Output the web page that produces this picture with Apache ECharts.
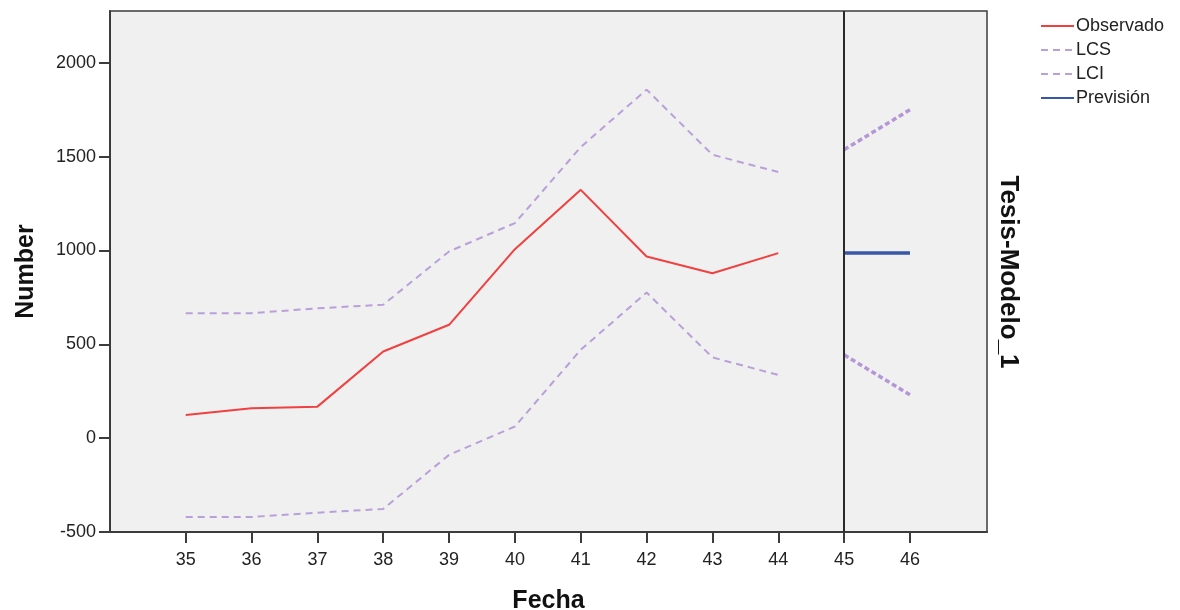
<!DOCTYPE html>
<html>
<head>
<meta charset="utf-8">
<script src="https://cdn.jsdelivr.net/npm/echarts@6/dist/echarts.min.js"></script>
<style>
  html, body { margin: 0; padding: 0; background: #fff; }
  #chart { width: 1180px; height: 610px; }
</style>
</head>
<body>
<div id="chart"></div>
<script>
// valores
const fechas = [35, 36, 37, 38, 39, 40, 41, 42, 43, 44];
const fechasPrev = [45, 46];
const observado = [124, 160, 168, 462, 604, 1007, 1323, 968, 879, 986];
const lcs = [666, 666, 692, 711, 995, 1146, 1551, 1857, 1510, 1418];
const lci = [-420, -420, -397, -377, -89, 62, 471, 776, 430, 337];
const lcsPrev = [1537, 1750];
const lciPrev = [444, 231];
const prevision = [986, 986];
const xTicks = [35, 36, 37, 38, 39, 40, 41, 42, 43, 44, 45, 46];
const yTicks = [-500, 0, 500, 1000, 1500, 2000];
const inicioPrevision = 45;

const pairs = (xs, ys) => xs.map((x, i) => [x, ys[i]]);

const font = 'Liberation Sans, Arial, sans-serif';
const lila = '#b9a0d8';

const chart = echarts.init(document.getElementById('chart'));

chart.setOption({
    animation: false,
    grid: {
        left: 110,
        top: 11,
        right: 193,
        bottom: 78,
        outerBoundsMode: 'none',
        containLabel: false,
        show: true,
        backgroundColor: '#f0f0f0',
        borderColor: '#3c3c3c',
        borderWidth: 1.5
    },
    legend: {
        orient: 'vertical',
        left: 1035,
        top: 12,
        itemWidth: 33,
        itemHeight: 14,
        itemGap: 6,
        itemStyle: { opacity: 0 },
        textStyle: { fontFamily: font, fontSize: 18, color: '#222', padding: [0, 0, 0, -3] },
        data: ['Observado', 'LCS', 'LCI', 'Previsión']
    },
    xAxis: {
        type: 'value',
        min: 33.85,
        max: 47.17,
        name: 'Fecha',
        nameLocation: 'middle',
        nameGap: 57,
        nameTextStyle: { fontFamily: font, fontSize: 25, fontWeight: 'bold', color: '#111' },
        axisLine: { onZero: false, lineStyle: { color: '#3c3c3c', width: 2 } },
        axisTick: { show: true, length: 11, lineStyle: { color: '#3c3c3c', width: 2 }, customValues: xTicks },
        axisLabel: { fontFamily: font, fontSize: 18, color: '#222', margin: 19, customValues: xTicks },
        splitLine: { show: false }
    },
    yAxis: {
        type: 'value',
        min: -500,
        max: 2276,
        name: 'Number',
        nameLocation: 'middle',
        nameGap: 71,
        nameTextStyle: { fontFamily: font, fontSize: 25, fontWeight: 'bold', color: '#111' },
        axisLine: { show: true, onZero: false, lineStyle: { color: '#3c3c3c', width: 2 } },
        axisTick: { show: true, length: 11, lineStyle: { color: '#3c3c3c', width: 2 }, customValues: yTicks },
        axisLabel: {
            fontFamily: font, fontSize: 18, color: '#222', margin: 14, customValues: yTicks,
            formatter: v => String(v)
        },
        splitLine: { show: false }
    },
    series: [
        {
            name: 'Observado',
            type: 'line',
            symbol: 'none',
            data: pairs(fechas, observado),
            lineStyle: { color: '#f04040', width: 2 },
            itemStyle: { color: '#f04040' }
        },
        {
            name: 'LCS',
            type: 'line',
            symbol: 'none',
            data: pairs(fechas, lcs),
            lineStyle: { color: lila, width: 2, type: [7, 5] },
            itemStyle: { color: lila }
        },
        {
            name: 'LCI',
            type: 'line',
            symbol: 'none',
            data: pairs(fechas, lci),
            lineStyle: { color: lila, width: 2, type: [7, 5] },
            itemStyle: { color: lila }
        },
        {
            name: 'LCS',
            type: 'line',
            symbol: 'none',
            data: pairs(fechasPrev, lcsPrev),
            lineStyle: { color: '#b596d6', width: 3.5, type: [5, 3] },
            itemStyle: { color: lila }
        },
        {
            name: 'LCI',
            type: 'line',
            symbol: 'none',
            data: pairs(fechasPrev, lciPrev),
            lineStyle: { color: '#b596d6', width: 3.5, type: [5, 3] },
            itemStyle: { color: lila }
        },
        {
            name: 'Previsión',
            type: 'line',
            symbol: 'none',
            data: pairs(fechasPrev, prevision),
            lineStyle: { color: '#3a56a8', width: 3.5 },
            itemStyle: { color: '#3a56a8' },
            markLine: {
                silent: true,
                symbol: 'none',
                label: { show: false },
                lineStyle: { color: '#2a2a2a', width: 2, type: 'solid' },
                data: [{ xAxis: inicioPrevision }]
            },
            z: 3
        }
    ],
    graphic: [
        {
            type: 'text',
            x: 1008,
            y: 272,
            rotation: -Math.PI / 2,
            style: {
                text: 'Tesis-Modelo_1',
                font: 'bold 26px ' + font,
                fill: '#111',
                textAlign: 'center',
                textVerticalAlign: 'middle'
            }
        }
    ]
});
</script>
</body>
</html>
